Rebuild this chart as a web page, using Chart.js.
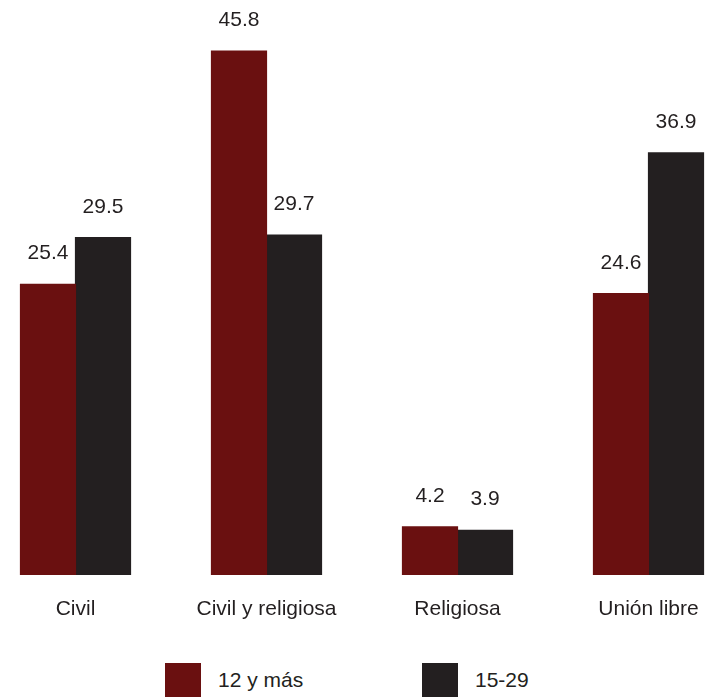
<!DOCTYPE html>
<html>
<head>
<meta charset="utf-8">
<script src="https://cdn.jsdelivr.net/npm/chart.js@4"></script>
<style>
  html, body { margin: 0; padding: 0; background: #fff; overflow: hidden; width: 708px; height: 697px; }
  #wrap { position: absolute; left: -20px; top: 0; width: 764px; height: 640px; }
  #leyenda { position: absolute; left: 165px; top: 663px; display: flex; font-family: "Liberation Sans", Arial, sans-serif; font-size: 21px; color: #231f20; }
  .item { display: flex; width: 257px; }
  .caja { width: 36px; height: 34px; margin-right: 17px; }
  .texto { line-height: 34px; }
</style>
</head>
<body>
<div id="wrap"><canvas id="grafico"></canvas></div>
<div id="leyenda"></div>
<script>
var categorias = ['Civil', 'Civil y religiosa', 'Religiosa', 'Unión libre'];
var series = ['12 y más', '15-29'];
var valores12 = [25.4, 45.8, 4.2, 24.6];
var valores15 = [29.5, 29.7, 3.9, 36.9];
var colores = ['#6a1010', '#231f20'];

var fuente = '"Liberation Sans", Arial, sans-serif';

// dibuja el valor encima de cada barra
var etiquetas = {
  id: 'etiquetas',
  afterDatasetsDraw: function (chart) {
    var ctx = chart.ctx;
    ctx.save();
    ctx.font = '21px ' + fuente;
    ctx.fillStyle = '#231f20';
    ctx.textAlign = 'center';
    ctx.textBaseline = 'alphabetic';
    chart.data.datasets.forEach(function (ds, i) {
      chart.getDatasetMeta(i).data.forEach(function (barra, j) {
        ctx.fillText(ds.data[j].toFixed(1), barra.x, barra.y - 25);
      });
    });
    ctx.restore();
  }
};

var grafico = new Chart(document.getElementById('grafico').getContext('2d'), {
  type: 'bar',
  data: {
    labels: categorias,
    datasets: [
      { label: series[0], data: valores12, backgroundColor: colores[0], inflateAmount: 0.6 },
      { label: series[1], data: valores15, backgroundColor: colores[1], inflateAmount: 0.6 }
    ]
  },
  options: {
    responsive: true,
    maintainAspectRatio: false,
    animation: false,
    layout: { padding: 0 },
    categoryPercentage: 0.576,
    barPercentage: 1,
    plugins: { legend: { display: false }, tooltip: { enabled: false } },
    scales: {
      x: {
        grid: { display: false, drawTicks: false },
        border: { display: false },
        ticks: { color: '#231f20', font: { family: fuente, size: 21 }, padding: 22 },
        afterFit: function (s) { s.height = 65; }
      },
      y: { display: false, min: 0, max: 50.26 }
    }
  },
  plugins: [etiquetas]
});

// leyenda abajo
var leyenda = document.getElementById('leyenda');
series.forEach(function (nombre, i) {
  var item = document.createElement('div');
  item.className = 'item';
  item.innerHTML = '<div class="caja" style="background:' + colores[i] + '"></div><div class="texto">' + nombre + '</div>';
  leyenda.appendChild(item);
});
</script>
</body>
</html>
